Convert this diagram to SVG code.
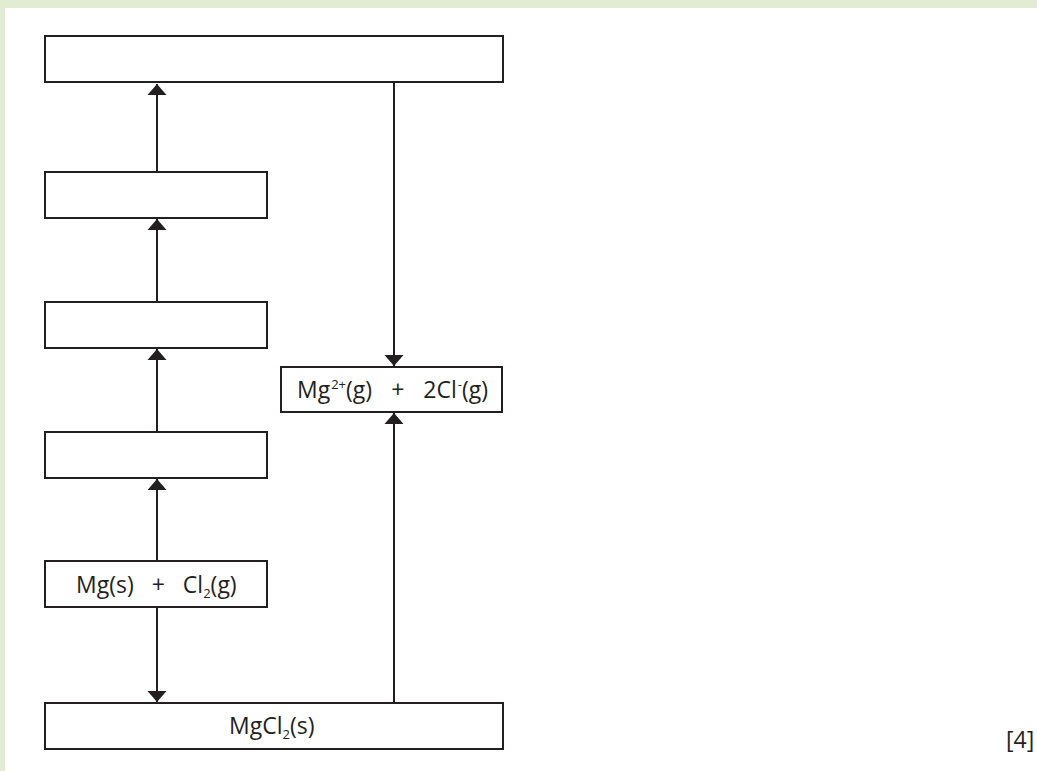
<svg xmlns="http://www.w3.org/2000/svg" width="1037" height="771" viewBox="0 0 1037 771">
<defs>
<style>
.box{fill:#ffffff;stroke:#231f20;stroke-width:2}
.ln{stroke:#231f20;stroke-width:2;fill:none}
.t{font-family:"Open Sans","Noto Sans","Liberation Sans",sans-serif;font-size:23px;fill:#231f20}
.s{font-size:13px}
</style>
<marker id="ah" markerUnits="userSpaceOnUse" markerWidth="12" markerHeight="20" viewBox="0 0 12 20" refX="11" refY="10" orient="auto">
<path d="M0,0.5 L11,10 L0,19.5 z" fill="#231f20"/>
</marker>
</defs>
<rect x="0" y="0" width="1037" height="771" fill="#e2ecd2"/>
<rect x="5" y="8" width="1032" height="763" fill="#ffffff"/>
<g id="connectors">
<line class="ln" x1="157" y1="172" x2="157" y2="84" marker-end="url(#ah)"/>
<line class="ln" x1="157" y1="302" x2="157" y2="219" marker-end="url(#ah)"/>
<line class="ln" x1="157" y1="432" x2="157" y2="349" marker-end="url(#ah)"/>
<line class="ln" x1="157" y1="561" x2="157" y2="479" marker-end="url(#ah)"/>
<line class="ln" x1="157" y1="607" x2="157" y2="702" marker-end="url(#ah)"/>
<line class="ln" x1="394" y1="82" x2="394" y2="366" marker-end="url(#ah)"/>
<line class="ln" x1="394" y1="703" x2="394" y2="413" marker-end="url(#ah)"/>
</g>
<g id="n_top"><rect class="box" x="45" y="36" width="458" height="46"/></g>
<g id="n_box2"><rect class="box" x="45" y="172" width="222" height="46"/></g>
<g id="n_box3"><rect class="box" x="45" y="302" width="222" height="46"/></g>
<g id="n_box4"><rect class="box" x="45" y="432" width="222" height="46"/></g>
<g id="n_ions"><rect class="box" x="281" y="367" width="221" height="45"/>
<text class="t" x="297" y="398">Mg<tspan class="s" dx="1" dy="-9">2+</tspan><tspan dy="9">(g)</tspan><tspan dx="19">+</tspan><tspan dx="19">2Cl</tspan><tspan class="s" dx="1" dy="-9">-</tspan><tspan dy="9">(g)</tspan></text>
</g>
<g id="n_elements"><rect class="box" x="45" y="561" width="222" height="46"/>
<text class="t" x="76" y="593">Mg(s)<tspan dx="18">+</tspan><tspan dx="18">Cl</tspan><tspan class="s" dy="5">2</tspan><tspan dy="-5">(g)</tspan></text>
</g>
<g id="n_mgcl2"><rect class="box" x="45" y="703" width="458" height="46"/>
<text class="t" x="229" y="734">MgCl<tspan class="s" dy="5">2</tspan><tspan dy="-5">(s)</tspan></text>
</g>
<text class="t" x="1006" y="748">[4]</text>
</svg>
